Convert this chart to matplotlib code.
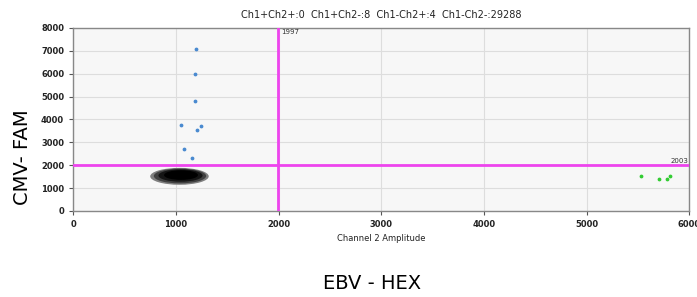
import matplotlib.pyplot as plt
from matplotlib.patches import Ellipse

# droplets
blue_x = [1200, 1190, 1190, 1050, 1210, 1240, 1080, 1160]
blue_y = [7100, 6000, 4800, 3750, 3550, 3700, 2720, 2320]
green_x = [5530, 5700, 5785, 5815]
green_y = [1545, 1390, 1400, 1530]

# negative cluster (29288 droplets), drawn as nested density levels
cluster_cx = [1035, 1040, 1045, 1050]
cluster_cy = [1510, 1525, 1545, 1565]
cluster_w = [570, 510, 430, 330]
cluster_h = [740, 650, 540, 420]
cluster_gray = ['#808080', '#404040', '#151515', '#000000']

thr_x = 1997
thr_y = 2003
title = 'Ch1+Ch2+:0  Ch1+Ch2-:8  Ch1-Ch2+:4  Ch1-Ch2-:29288'

fig = plt.figure(figsize=(6.97, 2.97), dpi=100)
ax = fig.add_axes([0.105, 0.29, 0.884, 0.616])
ax.set_facecolor('#f7f7f7')

for cx, cy, w, h, g in zip(cluster_cx, cluster_cy, cluster_w, cluster_h, cluster_gray):
    ax.add_patch(Ellipse((cx, cy), w, h, color=g, lw=0, zorder=3))

ax.scatter(blue_x, blue_y, s=3, color='#4a8ad0', zorder=4)
ax.scatter(green_x, green_y, s=3, color='#33cc33', zorder=4)

ax.axvline(thr_x, color='#ee44ee', lw=2, zorder=5)
ax.axhline(thr_y, color='#ee44ee', lw=2, zorder=5)
ax.text(thr_x + 30, 7960, str(thr_x), fontsize=5, va='top', ha='left', color='#333333')
ax.text(5990, thr_y + 60, str(thr_y), fontsize=5, va='bottom', ha='right', color='#333333')

ax.set_xlim(0, 6000)
ax.set_ylim(0, 8000)
ax.set_xticks(range(0, 6001, 1000))
ax.set_yticks(range(0, 8001, 1000))
ax.grid(True, color='#dddddd', lw=0.8)
ax.set_axisbelow(True)
ax.tick_params(labelsize=6, length=3, color='#555555', labelcolor='#222222')
for t in ax.get_xticklabels() + ax.get_yticklabels():
    t.set_fontweight('bold')
for s in ax.spines.values():
    s.set_color('#888888')
    s.set_linewidth(1)

ax.set_title(title, fontsize=7, pad=7, color='#222222')
ax.set_xlabel('Channel 2 Amplitude', fontsize=6, labelpad=4, color='#222222')

fig.text(0.534, 0.045, 'EBV - HEX', fontsize=14, ha='center', va='center')
fig.text(0.032, 0.47, 'CMV- FAM', fontsize=14, ha='center', va='center', rotation=90)

fig.savefig('out.png', dpi=100)
